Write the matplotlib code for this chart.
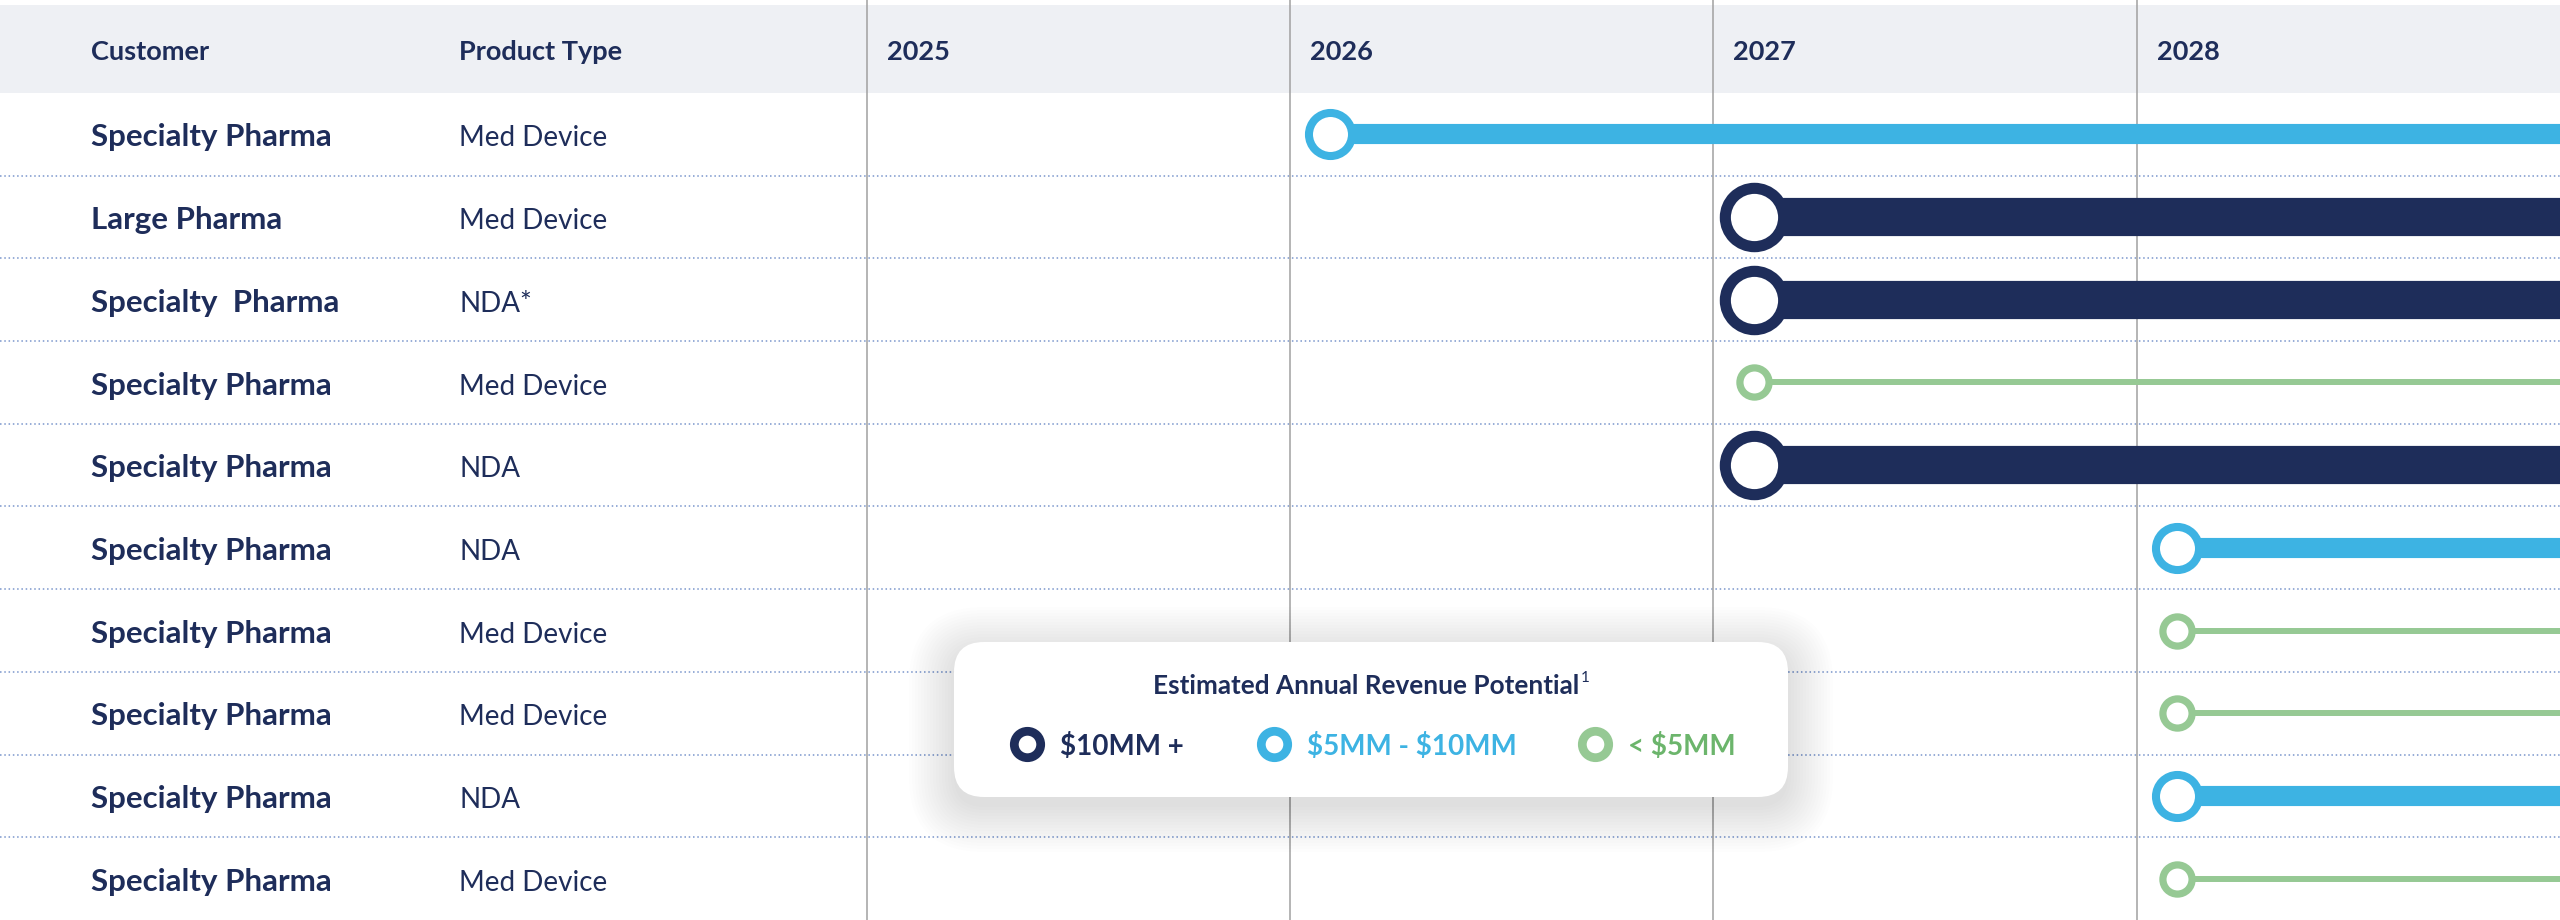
import matplotlib
matplotlib.use("Agg")
import matplotlib.pyplot as plt
from matplotlib import transforms
from matplotlib.patches import FancyBboxPatch

plt.rcParams['font.family'] = ['Lato', 'DejaVu Sans']

# ---- data ----
customers = ["Specialty Pharma", "Large Pharma", "Specialty  Pharma", "Specialty Pharma",
             "Specialty Pharma", "Specialty Pharma", "Specialty Pharma", "Specialty Pharma",
             "Specialty Pharma", "Specialty Pharma"]
products = ["Med Device", "Med Device", "NDA*", "Med Device", "NDA",
            "NDA", "Med Device", "Med Device", "NDA", "Med Device"]
start_years = [2026, 2027, 2027, 2027, 2027, 2028, 2028, 2028, 2028, 2028]
tiers = ["mid", "high", "high", "low", "high", "mid", "low", "low", "mid", "low"]
years = [2025, 2026, 2027, 2028]
col_headers = ["Customer", "Product Type"]
legend_title = "Estimated Annual Revenue Potential"
legend_labels = {"high": r"\$10MM +", "mid": r"\$5MM - \$10MM", "low": r"< \$5MM"}

# ---- style ----
NAVY = "#1e2d5a"
BLUE = "#3db3e3"
GREEN = "#96c994"
TIER_STYLE = {
    # color, line width, marker size, marker edge width (points)
    "high": dict(color=NAVY, lw=27.5, ms=42, mew=8.0),
    "mid": dict(color=BLUE, lw=14.5, ms=31, mew=5.8),
    "low": dict(color=GREEN, lw=4.3, ms=21, mew=5.2),
}
TEXT_COLORS = {"high": NAVY, "mid": BLUE, "low": "#6cb56c"}
START_OFFSET = 0.095

W, H, DPI = 2560, 920, 100
fig = plt.figure(figsize=(W / DPI, H / DPI + 0.001), dpi=DPI)
ax = fig.add_axes([0, 0, 1, 1])
ax.set_xlim(2022.952, 2029.0)
ax.set_ylim(9.5, -1.625)
ax.axis('off')

ROW_PX = H / 11.125          # pixel height of one row
BASE = 12 / ROW_PX           # baseline offset below the row centre

# pixel coordinates measured from top-left
PX = transforms.Affine2D().scale(1 / DPI, -1 / DPI).translate(0, H / DPI) + fig.dpi_scale_trans
px_x_data_y = transforms.blended_transform_factory(PX, ax.transData)

# header band
head_top, head_bot = -1.565, -0.5
ax.axhspan(head_top, head_bot, color="#eef0f4", zorder=0, lw=0)
head_mid = (head_top + head_bot) / 2

# row separators
n = len(customers)
for i in range(n - 1):
    ax.axhline(i + 0.5, color="#7a96cc", lw=1.1, ls=(0, (1, 1.8)), zorder=1)

# year lines + labels
for y in years:
    ax.axvline(y, color="#a0a0a0", lw=1.1, zorder=1)
    ax.text(y + 0.047, head_mid + 11 / ROW_PX, str(y), color=NAVY, fontsize=19.5,
            fontweight='bold', va='baseline', ha='left', zorder=2)

# table columns
col_x = [91, 459]
for cx, h in zip(col_x, col_headers):
    ax.text(cx, head_mid + 11 / ROW_PX, h, transform=px_x_data_y, color=NAVY,
            fontsize=19.5, fontweight='bold', va='baseline', ha='left')
for i, (c, p) in enumerate(zip(customers, products)):
    ax.text(col_x[0], i + BASE, c, transform=px_x_data_y, color=NAVY, fontsize=22.5,
            fontweight='bold', va='baseline', ha='left')
    ax.text(col_x[1], i + BASE, p, transform=px_x_data_y, color=NAVY, fontsize=20,
            va='baseline', ha='left')

# timelines
for i, (s, t) in enumerate(zip(start_years, tiers)):
    st = TIER_STYLE[t]
    x0 = s + START_OFFSET
    ax.plot([x0, 2029.5], [i, i], color=st["color"], lw=st["lw"],
            solid_capstyle='butt', zorder=3)
    ax.plot([x0], [i], 'o', ms=st["ms"], mfc='white', mec=st["color"],
            mew=st["mew"], zorder=4)

# legend box with soft shadow
bx, by, bw, bh = 954, 642, 834, 155
for k in range(16):
    grow = 3 * k
    sh = FancyBboxPatch((bx - grow, by - grow + 10), bw + 2 * grow, bh + 2 * grow,
                        boxstyle="round,pad=0,rounding_size=%d" % (30 + grow),
                        transform=PX, fc='black', ec='none', alpha=0.007, zorder=9)
    fig.add_artist(sh)
box = FancyBboxPatch((bx, by), bw, bh, boxstyle="round,pad=0,rounding_size=30",
                     transform=PX, fc='white', ec='none', zorder=10)
fig.add_artist(box)

title = fig.text(1366, 694, legend_title, transform=PX, color=NAVY, fontsize=18.8,
                 fontweight='bold', ha='center', va='baseline', zorder=11)
fig.add_artist(plt.Annotation("1", xy=(1, 1), xycoords=title, xytext=(1, 2),
                              textcoords='offset points', fontsize=11, color=NAVY,
                              ha='left', va='top', zorder=11))

leg_y = 744
leg_marker_x = {"high": 1027, "mid": 1274, "low": 1595}
for t in ["high", "mid", "low"]:
    c = TIER_STYLE[t]["color"]
    fig.add_artist(plt.Line2D([leg_marker_x[t]], [leg_y], transform=PX, marker='o', ms=19,
                              mfc='white', mec=c, mew=6.3, zorder=11))
    fig.text(leg_marker_x[t] + 33, leg_y + 11, legend_labels[t], transform=PX,
             color=TEXT_COLORS[t], fontsize=20, fontweight='bold', ha='left',
             va='baseline', zorder=11)

fig.savefig("out.png", dpi=DPI, facecolor='white')
